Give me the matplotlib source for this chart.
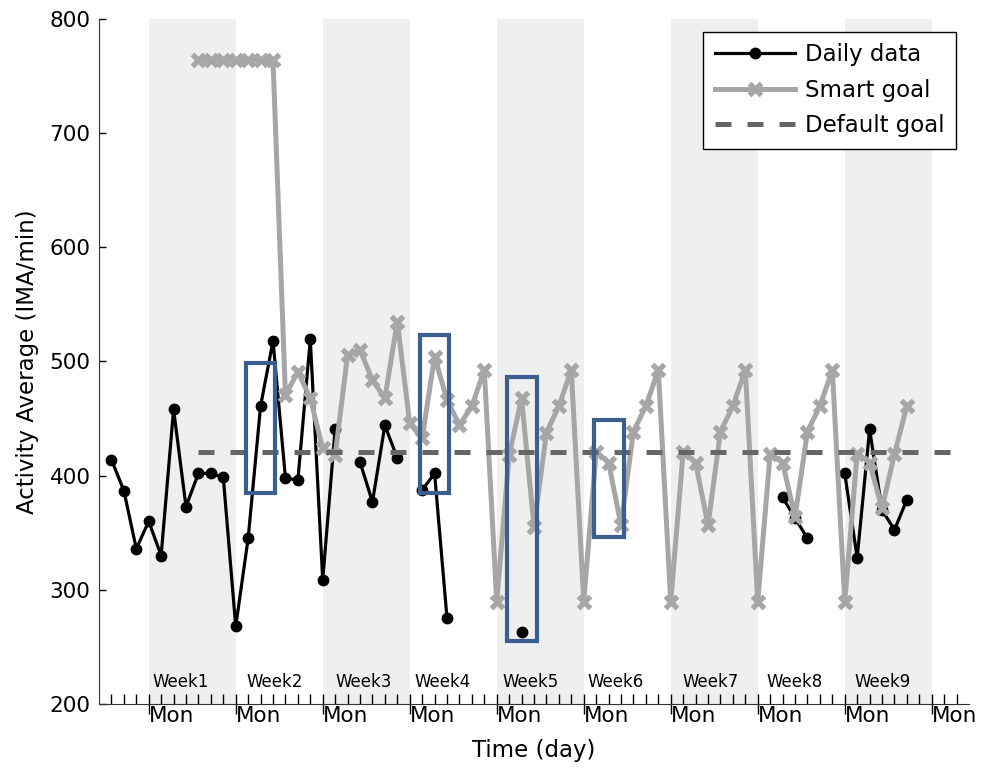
import numpy as np
import matplotlib.pyplot as plt
from matplotlib.patches import Rectangle

nan = np.nan

# daily activity (day 0 = Monday of week 1)
daily_days = list(range(-3, 62))
daily_vals = [414, 387, 336, 360, 330, 458, 373, 402, 402, 398.5,
              268, 345, 461, 518, 398, 396, 519.5, 308.5, 441, nan,
              412, 377, 444, 415.5, nan, 387.5, 402, 275, nan, nan,
              nan, nan, nan, 263, nan, nan, nan, nan, nan, nan,
              nan, nan, nan, nan, nan, nan, nan, nan, nan, nan,
              nan, nan, nan, nan, 381, 363, 345, nan, nan, 402,
              328, 440.5, 370, 352.5, 379]

# smart goal
goal_days = list(range(4, 62))
goal_vals = [764, 764, 764, 764, 764, 764, 764,
             470.6, 491, 467.8,
             424, 418, 505.7, 510, 483.8, 467.8, 534.9,
             445.8, 432.7, 504.2, 466.3, 444.4, 461, 492.5,
             289.6, 418, 467.7, 355.3, 437.7, 461, 492.5,
             289.6, 421, 411.4, 356.8, 438.6, 461, 492.5,
             289.6, 421, 411.4, 356.8, 438.6, 461, 492.5,
             289.6, 419.4, 411.4, 364, 438.6, 461, 492.5,
             289.6, 419.4, 411.4, 371.3, 419, 461]

# default goal
default_days = [4, 65]
default_vals = [421, 421]

# highlighted days: (centre day, low, high)
box_days = [9, 23, 30, 37]
box_low = [385, 385, 255, 346]
box_high = [499, 523, 486, 449]

week_labels = ['Week1', 'Week2', 'Week3', 'Week4', 'Week5', 'Week6', 'Week7', 'Week8', 'Week9']
week_label_x = [0.32, 7.88, 15.03, 21.38, 28.46, 35.29, 42.93, 49.68, 56.75]
mondays = [0, 7, 14, 21, 28, 35, 42, 49, 56, 63]

fig = plt.figure(figsize=(9.87, 7.68), dpi=100)
ax = fig.add_axes([0.1003, 0.0833, 0.8815, 0.892])

# grey background for odd weeks
for i in range(0, 9, 2):
    ax.axvspan(mondays[i], mondays[i + 1], color='#efefef', lw=0, zorder=0)

ax.plot(daily_days, daily_vals, color='black', lw=2.3, marker='o', ms=7.5,
        label='Daily data', zorder=2)
ax.plot(goal_days, goal_vals, color='#a6a6a6', lw=3.6, marker='x', ms=8.5, mew=3.8,
        label='Smart goal', zorder=3)
ax.plot(default_days, default_vals, color='#666666', lw=3.6, dashes=(3.2, 3.2),
        label='Default goal', zorder=4)

for d, lo, hi in zip(box_days, box_low, box_high):
    ax.add_patch(Rectangle((d - 1.2, lo), 2.4, hi - lo, fill=False,
                           edgecolor='#3a5e8e', lw=3, zorder=5))

for lab, x in zip(week_labels, week_label_x):
    ax.text(x, 0.025, lab, transform=ax.get_xaxis_transform(), fontsize=12,
            ha='left', va='baseline')

ax.set_xlim(-4, 66)
ax.set_ylim(200, 800)
ax.set_yticks(range(200, 801, 100))
ax.set_xticks(mondays)
ax.set_xticklabels(['Mon'] * len(mondays), ha='left')
ax.set_xticks(range(-3, 66), minor=True)

ax.spines['top'].set_visible(False)
ax.spines['right'].set_visible(False)
ax.spines['left'].set_color('#333333')
ax.spines['bottom'].set_color('#333333')

ax.tick_params(axis='y', direction='in', length=5, width=1, labelsize=15.5, pad=6)
ax.tick_params(axis='x', which='major', direction='inout', length=15, width=1,
               labelsize=15.5, pad=-6)
ax.tick_params(axis='x', which='minor', direction='in', length=7, width=1)

ax.set_xlabel('Time (day)', fontsize=16.5, labelpad=9)
ax.set_ylabel('Activity Average (IMA/min)', fontsize=16.5, labelpad=8)

leg = ax.legend(loc='upper right', fontsize=16.5, frameon=True, fancybox=False,
                edgecolor='black', framealpha=1, handlelength=3.5,
                handletextpad=0.45, labelspacing=0.55, borderpad=0.5,
                borderaxespad=0.55)
leg.get_frame().set_linewidth(1)

plt.savefig('out.png', dpi=100)
